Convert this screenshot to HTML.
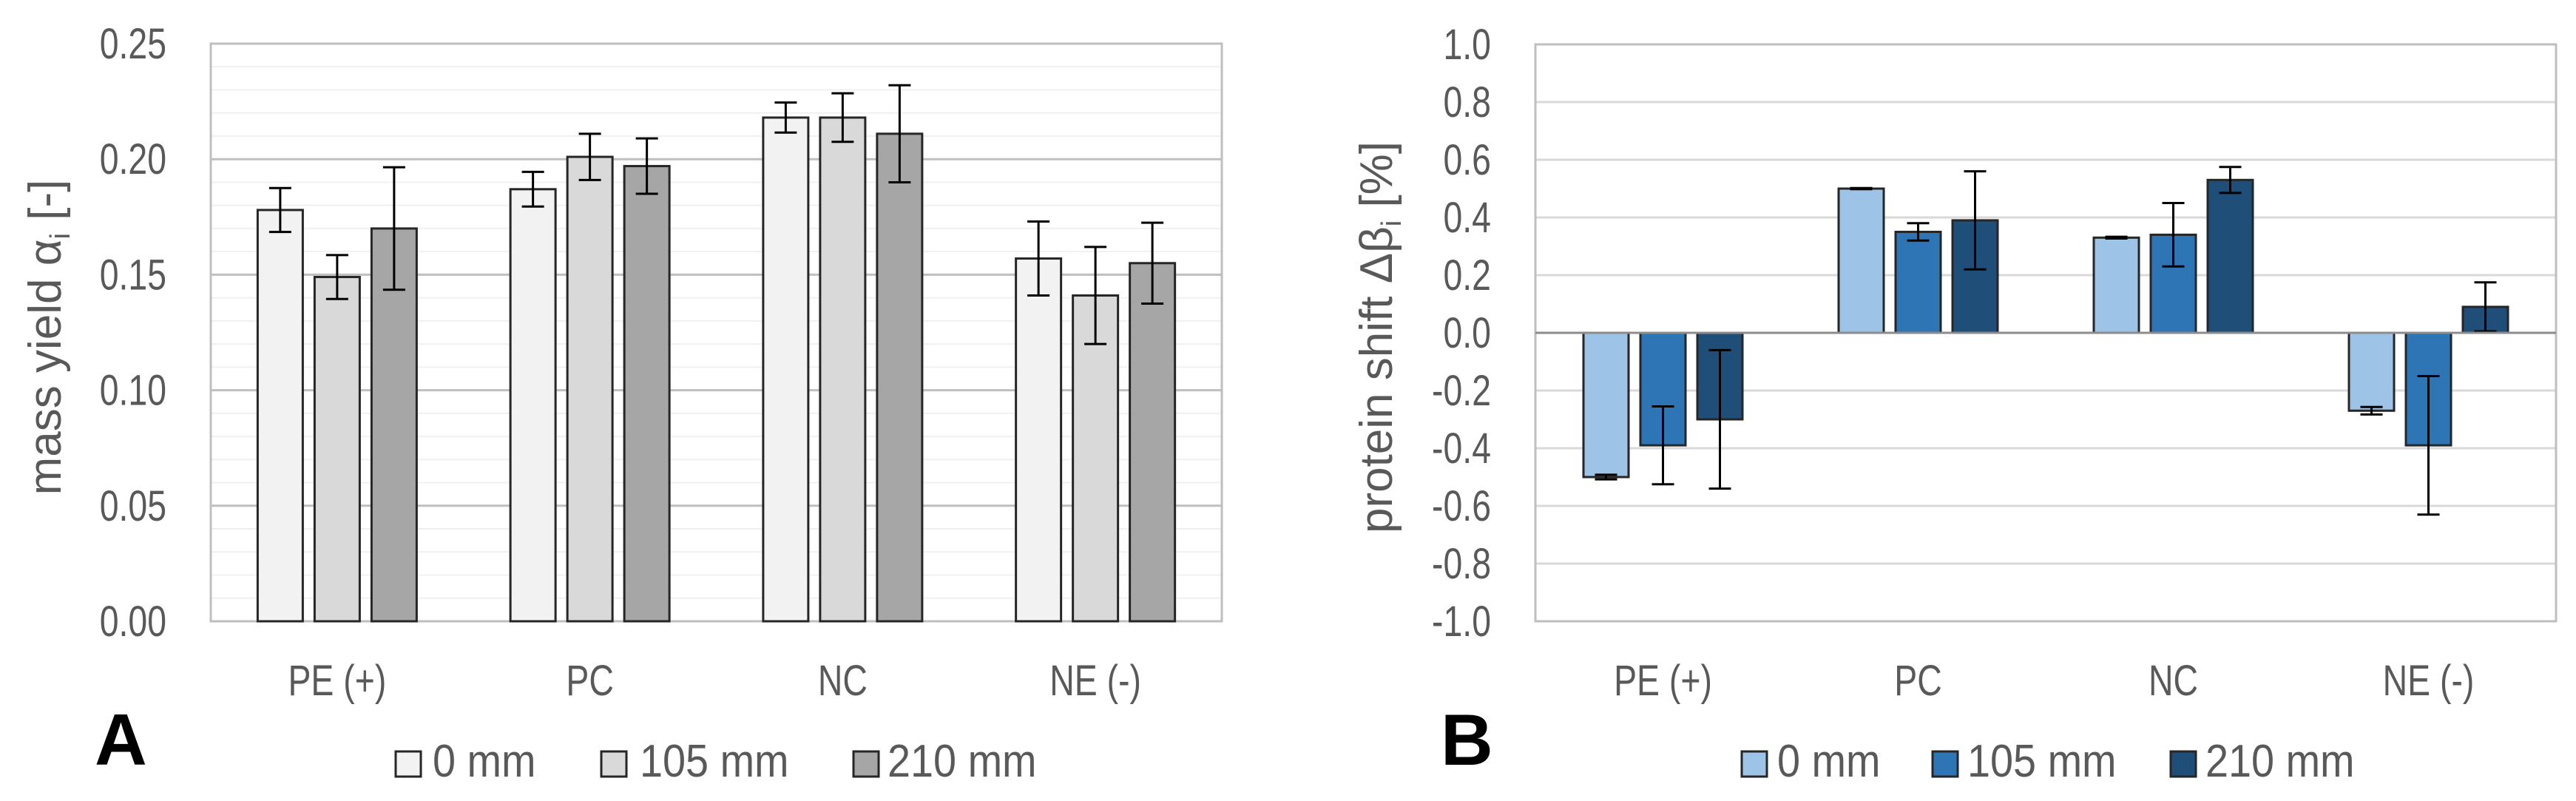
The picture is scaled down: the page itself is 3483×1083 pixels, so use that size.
<!DOCTYPE html>
<html><head><meta charset="utf-8"><style>
html,body{margin:0;padding:0;background:#fff;}
svg{display:block;}
text{font-family:"Liberation Sans Narrow","Liberation Sans",sans-serif;fill:#595959;}
</style></head><body>
<svg id="fig" width="3483" height="1083" viewBox="0 0 3483 1083" xmlns="http://www.w3.org/2000/svg">
<g id="chartA"></g>
<g id="chartB"></g>
</svg>
<script>
const categories = ["PE (+)", "PC", "NC", "NE (-)"];
const seriesNames = ["0 mm", "105 mm", "210 mm"];
const aVals0 = [0.178, 0.187, 0.218, 0.157];
const aVals105 = [0.149, 0.201, 0.218, 0.141];
const aVals210 = [0.170, 0.197, 0.211, 0.155];
const aErr0 = [0.0095, 0.0075, 0.0065, 0.016];
const aErr105 = [0.0095, 0.010, 0.0105, 0.021];
const aErr210 = [0.0265, 0.012, 0.021, 0.0175];
const aTicks = ["0.00", "0.05", "0.10", "0.15", "0.20", "0.25"];
const bVals0 = [-0.50, 0.50, 0.33, -0.27];
const bVals105 = [-0.39, 0.35, 0.34, -0.39];
const bVals210 = [-0.30, 0.39, 0.53, 0.09];
const bErr0 = [0.008, 0.002, 0.003, 0.013];
const bErr105 = [0.135, 0.03, 0.11, 0.24];
const bErr210 = [0.24, 0.17, 0.045, 0.085];
const bTicks = ["-1.0", "-0.8", "-0.6", "-0.4", "-0.2", "0.0", "0.2", "0.4", "0.6", "0.8", "1.0"];

const NS = "http://www.w3.org/2000/svg";
function mk(parent, tag, attrs, txt) {
  const e = document.createElementNS(NS, tag);
  for (const k in attrs) e.setAttribute(k, attrs[k]);
  if (txt !== undefined) e.textContent = txt;
  parent.appendChild(e);
  return e;
}
function ctext(parent, x, y, anchor, size, txt, sx) {
  return mk(parent, "text", {x: 0, y: 0, "text-anchor": anchor, "font-size": size, transform: `translate(${x},${y}) scale(${sx || 0.8},1)`}, txt);
}

function drawChart(g, cfg) {
  const {left, right, top, bottom, ymin, ymax, ticks, minorStep, vals, errs, colors, gridColor, tickRight, titleX, title, letter, letterX, legendBox, legendText, zeroLine} = cfg;
  const yS = v => bottom - (v - ymin) / (ymax - ymin) * (bottom - top);
  const catW = (right - left) / categories.length;
  const xS = i => left + catW * (i + 0.5);
  if (minorStep) {
    for (let v = ymin; v <= ymax + 1e-9; v += minorStep) {
      const l = mk(g, "line", {x1: left, x2: right, y1: yS(v), y2: yS(v), stroke: "#f0f0f0", "stroke-width": 2});
      
      
    }
  }
  ticks.forEach(t => {
    const v = parseFloat(t);
    const l = mk(g, "line", {x1: left, x2: right, y1: yS(v), y2: yS(v), stroke: gridColor, "stroke-width": 3});
    
    
    const tx = ctext(g, tickRight, yS(v) + 20, "end", 58, t);
    
    
  });
  const fr = mk(g, "rect", {x: left, y: top, width: right - left, height: bottom - top, fill: "none", stroke: "#bfbfbf", "stroke-width": 3});
  
  
  const bw = 61, pitch = 77;
  vals.forEach((series, s) => {
    series.forEach((v, i) => {
      const cx = xS(i) + (s - 1) * pitch;
      const y0 = yS(zeroLine ? 0 : ymin), y1 = yS(v);
      const r = mk(g, "rect", {x: cx - bw / 2, y: Math.min(y0, y1), width: bw, height: Math.abs(y0 - y1), fill: colors[s], stroke: "#262626", "stroke-width": 3});
      
      
      const e = errs[s][i];
      const eg = mk(g, "g", {stroke: "#000", "stroke-width": 3});
      
      
      mk(eg, "line", {x1: cx, x2: cx, y1: yS(v - e), y2: yS(v + e)});
      mk(eg, "line", {x1: cx - 15, x2: cx + 15, y1: yS(v - e), y2: yS(v - e)});
      mk(eg, "line", {x1: cx - 15, x2: cx + 15, y1: yS(v + e), y2: yS(v + e)});
    });
  });
  if (zeroLine) {
    const z = mk(g, "line", {x1: left, x2: right, y1: yS(0), y2: yS(0), stroke: "#8c8c8c", "stroke-width": 3});
    
    
  }
  categories.forEach((c, i) => {
    const t = ctext(g, xS(i), 940, "middle", 58, c);
    
    
  });
  const yt = mk(g, "text", {x: 0, y: 0, "text-anchor": "middle", "font-size": 62, transform: `translate(${titleX},456) rotate(-90)`, style: 'font-family:"Liberation Sans",sans-serif'});
  yt.innerHTML = title;
  
  
  const L = mk(g, "text", {x: letterX, y: 1034, "font-size": 98, "font-weight": "bold", style: 'fill:#000;font-family:"Liberation Sans",sans-serif'}, letter);
  
  
  seriesNames.forEach((n, s) => {
    const lg = mk(g, "g", {});
    
    
    mk(lg, "rect", {x: legendBox[s], y: 1016, width: 34, height: 34, fill: colors[s], stroke: "#262626", "stroke-width": 3});
    ctext(lg, legendText[s], 1050, "start", 62, n, 0.9);
  });
}

drawChart(document.getElementById("chartA"), {
  left: 285, right: 1652, top: 59, bottom: 840, ymin: 0, ymax: 0.25, ticks: aTicks, minorStep: 0.01,
  vals: [aVals0, aVals105, aVals210], errs: [aErr0, aErr105, aErr210],
  colors: ["#f2f2f2", "#d9d9d9", "#a6a6a6"], gridColor: "#bfbfbf", tickRight: 225, titleX: 82,
  title: 'mass yield α<tspan font-size="38" dy="12">i</tspan><tspan dy="-12">  [-]</tspan>',
  letter: "A", letterX: 128, legendBox: [535, 813, 1154], legendText: [585, 865, 1200], zeroLine: false
});
drawChart(document.getElementById("chartB"), {
  left: 2076, right: 3456, top: 60, bottom: 840, ymin: -1, ymax: 1, ticks: bTicks, minorStep: 0,
  vals: [bVals0, bVals105, bVals210], errs: [bErr0, bErr105, bErr210],
  colors: ["#9dc3e6", "#2e75b6", "#1f4e79"], gridColor: "#d9d9d9", tickRight: 2016, titleX: 1882,
  title: 'protein shift Δβ<tspan font-size="38" dy="12">i</tspan><tspan dy="-12"> [%]</tspan>',
  letter: "B", letterX: 1948, legendBox: [2355, 2613, 2935], legendText: [2403, 2660, 2982], zeroLine: true
});
</script>
</body></html>
